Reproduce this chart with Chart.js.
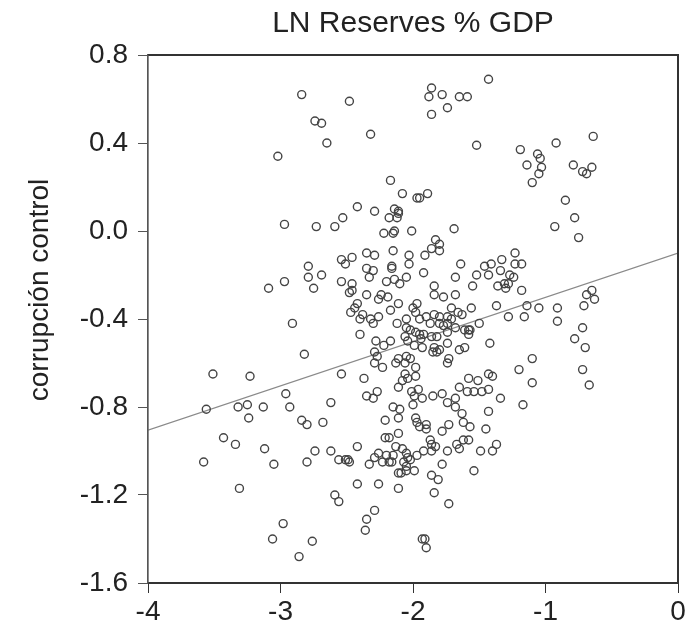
<!DOCTYPE html>
<html>
<head>
<meta charset="utf-8">
<script src="https://cdn.jsdelivr.net/npm/chart.js@4.4.1/dist/chart.umd.min.js"></script>
<style>
  html, body { margin: 0; padding: 0; background: #ffffff; }
  #wrap { width: 694px; height: 630px; }
</style>
</head>
<body>
<div id="wrap"><canvas id="c" width="694" height="630"></canvas></div>
<script>
// ---- Data ----
const chartTitle = "LN Reserves % GDP";
const yAxisLabel = "corrupción control";
const xTickValues = [-4, -3, -2, -1, 0];
const yTickValues = [0.8, 0.4, 0.0, -0.4, -0.8, -1.2, -1.6];

// LN Reserves % GDP (x) for each country-year
const reservesX = [
  -2.84,-2.74,-2.69,-3.02,-1.43,-1.86,-1.78,-1.88,-1.65,-1.59,-1.74,-1.86,-2.48,-2.65,-2.32,-1.52,
  -2.17,-2.08,-1.97,-1.95,-1.89,-2.42,-2.29,-2.53,-2.14,-2.11,-2.11,-2.18,-2.12,
  -0.64,-0.92,-1.19,-1.06,-1.04,-1.14,-1.03,-1.05,-1.10,-0.79,-0.72,-0.69,-0.65,-0.85,-0.78,
  -2.97,-2.73,-2.79,-2.79,-2.69,-2.75,-2.97,-3.09,-2.91,-2.82,-3.51,-3.23,-2.96,
  -3.56,-3.32,-3.25,-3.13,-2.93,-3.24,-2.84,-2.80,-2.68,-3.43,-3.34,-3.12,-2.74,-3.58,-3.05,-2.80,
  -3.31,-2.98,-3.06,-2.76,-2.86,
  -2.62,-2.15,-2.10,-2.11,-2.21,-2.00,-1.74,-1.68,-1.63,-1.43,-1.98,-1.97,-1.95,-1.90,-1.90,-1.73,
  -1.78,-1.62,-1.57,-1.45,-2.11,-2.21,-2.18,-2.42,-2.13,-2.08,-2.05,-2.62,-2.56,-2.51,-2.49,-2.48,
  -2.29,-2.26,-2.23,-2.20,-2.18,-2.16,-2.15,-2.33,-2.07,-2.04,-2.02,-2.05,-2.05,-1.99,-1.97,-1.92,
  -1.87,-1.86,-1.83,-1.86,-1.74,-1.67,-1.65,-1.62,-1.58,-1.49,-1.40,-1.37,-1.78,-1.54,-2.11,-2.09,
  -1.86,-1.81,-2.42,-2.26,-2.11,-1.84,-2.59,-2.56,-1.73,-2.29,-2.35,-2.36,-1.93,-1.91,-1.90,
  -0.93,-0.75,-1.23,-1.33,-1.23,-1.18,-1.34,-1.27,-1.24,-1.36,-1.31,-1.28,-1.30,-1.18,-0.69,-0.65,
  -0.63,-1.37,-1.14,-1.05,-0.91,-0.71,-1.28,-1.16,-0.91,-0.72,-0.78,-0.70,-1.10,-1.20,-0.72,-1.10,
  -0.67,-1.34,-1.17,
  -2.59,-2.14,-2.22,-2.15,-2.01,-1.69,-1.83,-1.86,-1.80,-1.80,-1.91,-2.03,-2.03,-2.15,-2.35,-2.29,
  -2.54,-2.46,-2.51,-2.35,-2.30,-2.33,-2.16,-2.16,-1.92,-1.64,-1.68,-1.52,-1.46,-1.41,-1.43,-1.55,
  -2.20,-2.14,-2.10,-2.05,-2.54,-2.46,-2.48,-2.46,-2.35,-2.24,-2.26,-2.19,-2.11,-2.42,-2.44,-2.47,
  -2.38,-2.40,-2.32,-2.26,-2.30,-2.17,-2.12,-1.84,-1.84,-1.77,-1.68,-1.56,-2.00,-1.97,-1.98,-1.95,
  -1.90,-1.84,-1.80,-1.74,-1.71,-1.66,-1.63,-1.71,-1.80,-1.77,-1.74,-1.87,-2.05,-2.05,-2.02,-1.98,
  -1.95,-1.92,-1.74,-1.68,-1.61,-1.58,-1.57,-1.58,-1.50,-2.40,-2.28,-2.22,-2.17,-2.06,-2.04,-1.99,
  -1.93,-1.94,-1.86,-1.82,-1.74,-1.84,-1.85,-1.82,-1.80,-1.65,-1.61,-1.42,-2.29,-2.27,-2.29,-2.23,
  -2.13,-2.11,-2.05,-2.02,-2.06,-1.98,-1.73,-1.74,-2.54,-2.37,-2.06,-2.04,-2.08,-1.98,-2.11,-2.01,
  -1.96,-1.99,-1.93,-1.85,-1.78,-1.68,-1.65,-1.58,-1.51,-1.59,-1.54,-1.48,-1.43,-1.43,-1.40,-2.27,
  -2.35,-2.30
];

// corrupción control (y) for each country-year
const corruptionY = [
   0.62, 0.50, 0.49, 0.34, 0.69, 0.65, 0.62, 0.61, 0.61, 0.61, 0.56, 0.53, 0.59, 0.40, 0.44, 0.39,
   0.23, 0.17, 0.15, 0.15, 0.17, 0.11, 0.09, 0.06, 0.10, 0.09, 0.08, 0.06, 0.06,
   0.43, 0.40, 0.37, 0.35, 0.33, 0.30, 0.29, 0.26, 0.22, 0.30, 0.27, 0.26, 0.29, 0.14, 0.06,
   0.03, 0.02,-0.16,-0.21,-0.20,-0.26,-0.23,-0.26,-0.42,-0.56,-0.65,-0.66,-0.74,
  -0.81,-0.80,-0.79,-0.80,-0.80,-0.85,-0.86,-0.88,-0.87,-0.94,-0.97,-0.99,-1.00,-1.05,-1.06,-1.05,
  -1.17,-1.33,-1.40,-1.41,-1.48,
  -0.78,-0.80,-0.81,-0.85,-0.86,-0.79,-0.78,-0.80,-0.83,-0.82,-0.85,-0.87,-0.89,-0.88,-0.90,-0.88,
  -0.91,-0.87,-0.89,-0.90,-0.92,-0.94,-0.94,-0.98,-0.98,-0.99,-1.01,-1.00,-1.04,-1.04,-1.04,-1.05,
  -1.03,-1.01,-1.05,-1.02,-1.05,-1.05,-1.02,-1.06,-1.05,-1.03,-1.04,-1.07,-1.09,-1.09,-1.02,-1.00,
  -0.95,-0.97,-0.98,-1.00,-1.00,-0.97,-0.99,-0.95,-0.95,-1.00,-1.00,-0.97,-1.06,-1.09,-1.10,-1.10,
  -1.11,-1.13,-1.15,-1.15,-1.17,-1.19,-1.20,-1.23,-1.24,-1.27,-1.31,-1.36,-1.40,-1.40,-1.44,
   0.02,-0.03,-0.10,-0.13,-0.15,-0.15,-0.18,-0.20,-0.21,-0.25,-0.24,-0.24,-0.26,-0.27,-0.29,-0.27,
  -0.31,-0.34,-0.34,-0.35,-0.35,-0.34,-0.39,-0.39,-0.41,-0.44,-0.49,-0.53,-0.58,-0.63,-0.63,-0.69,
  -0.70,-0.76,-0.79,
   0.02, 0.00,-0.01,-0.01, 0.00, 0.01,-0.04,-0.08,-0.06,-0.09,-0.11,-0.11,-0.15,-0.09,-0.10,-0.11,
  -0.13,-0.12,-0.15,-0.17,-0.18,-0.21,-0.16,-0.17,-0.19,-0.15,-0.21,-0.20,-0.16,-0.15,-0.20,-0.25,
  -0.23,-0.22,-0.24,-0.21,-0.23,-0.24,-0.28,-0.27,-0.29,-0.29,-0.31,-0.30,-0.33,-0.33,-0.35,-0.37,
  -0.38,-0.40,-0.40,-0.39,-0.42,-0.36,-0.42,-0.25,-0.29,-0.30,-0.29,-0.35,-0.35,-0.33,-0.37,-0.40,
  -0.39,-0.38,-0.39,-0.39,-0.35,-0.37,-0.38,-0.40,-0.42,-0.43,-0.42,-0.42,-0.40,-0.44,-0.45,-0.46,
  -0.47,-0.47,-0.46,-0.44,-0.45,-0.45,-0.45,-0.47,-0.42,-0.47,-0.50,-0.52,-0.50,-0.48,-0.50,-0.52,
  -0.53,-0.49,-0.48,-0.48,-0.51,-0.53,-0.55,-0.55,-0.54,-0.54,-0.53,-0.51,-0.55,-0.57,-0.60,-0.62,
  -0.60,-0.58,-0.57,-0.58,-0.60,-0.62,-0.58,-0.60,-0.65,-0.67,-0.65,-0.67,-0.68,-0.66,-0.71,-0.73,
  -0.72,-0.75,-0.76,-0.75,-0.74,-0.76,-0.71,-0.67,-0.68,-0.73,-0.73,-0.73,-0.72,-0.65,-0.66,-0.73,
  -0.75,-0.76
];

// Fitted regression line end points
const fitX = [-4, 0];
const fitY = [-0.905, -0.10];

// ---- Build chart ----
const scatterPoints = reservesX.map((x, i) => ({ x: x, y: corruptionY[i] }));
const fitPoints = fitX.map((x, i) => ({ x: x, y: fitY[i] }));

const FONT = "'Liberation Sans', Arial, Helvetica, sans-serif";
const INK = '#222222';

const frame = {
  id: 'frame',
  afterDatasetsDraw(chart) {
    const a = chart.chartArea, ctx = chart.ctx;
    ctx.save();
    ctx.lineWidth = 2;
    ctx.strokeStyle = '#333333';
    ctx.beginPath();
    ctx.moveTo(a.left, a.top); ctx.lineTo(a.right, a.top);
    ctx.lineTo(a.right, a.bottom); ctx.lineTo(a.left, a.bottom);
    ctx.stroke();
    ctx.lineWidth = 1.2;
    ctx.strokeStyle = '#555555';
    ctx.beginPath();
    ctx.moveTo(a.left, a.top); ctx.lineTo(a.left, a.bottom);
    ctx.stroke();
    ctx.restore();
  }
};

// y-axis caption, placed slightly above the axis middle as in the reference
const yCaption = {
  id: 'yCaption',
  afterDraw(chart) {
    const ctx = chart.ctx;
    const a = chart.chartArea;
    ctx.save();
    ctx.translate(40, a.top + (a.bottom - a.top) * 0.445);
    ctx.rotate(-Math.PI / 2);
    ctx.fillStyle = INK;
    ctx.font = "28px " + FONT;
    ctx.textAlign = 'center';
    ctx.textBaseline = 'middle';
    ctx.fillText(yAxisLabel, 0, 0);
    ctx.restore();
  }
};

new Chart(document.getElementById('c'), {
  type: 'scatter',
  data: {
    datasets: [
      {
        label: 'fit',
        type: 'line',
        data: fitPoints,
        borderColor: '#8a8a8a',
        borderWidth: 1.2,
        pointRadius: 0,
        fill: false,
        order: 2
      },
      {
        label: 'obs',
        data: scatterPoints,
        pointStyle: 'circle',
        pointRadius: 4,
        pointBorderWidth: 1.4,
        borderColor: '#444444',
        backgroundColor: 'rgba(0,0,0,0)',
        order: 1
      }
    ]
  },
  plugins: [frame, yCaption],
  options: {
    responsive: false,
    animation: false,
    layout: { padding: { left: 0, right: 16, top: 0, bottom: 0 } },
    plugins: {
      legend: { display: false },
      tooltip: { enabled: false },
      title: {
        display: true,
        text: chartTitle,
        fullSize: false,
        color: INK,
        font: { family: FONT, size: 30, weight: 'normal' },
        padding: { top: 6, bottom: 13 }
      }
    },
    scales: {
      x: {
        type: 'linear',
        min: -4, max: 0,
        afterFit(s) { s.height = 47; },
        afterBuildTicks(s) { s.ticks = xTickValues.map(v => ({ value: v })); },
        ticks: {
          color: INK,
          font: { family: FONT, size: 28 },
          padding: 2,
          callback: v => String(v)
        },
        grid: { drawOnChartArea: false, drawTicks: true, tickLength: 10, color: '#333333', tickWidth: 1 },
        border: { display: true, color: '#333333', width: 2 }
      },
      y: {
        type: 'linear',
        min: -1.6, max: 0.8,
        afterFit(s) { s.width = 148; },
        afterBuildTicks(s) { s.ticks = yTickValues.map(v => ({ value: v })); },
        ticks: {
          color: INK,
          font: { family: FONT, size: 28 },
          padding: 10,
          callback: v => (Math.abs(v) < 1e-9 ? 0 : v).toFixed(1)
        },
        grid: { drawOnChartArea: false, drawTicks: true, tickLength: 10, color: '#555555', tickWidth: 1 },
        border: { display: true, color: '#555555', width: 1.2 }
      }
    }
  }
});
</script>
</body>
</html>
